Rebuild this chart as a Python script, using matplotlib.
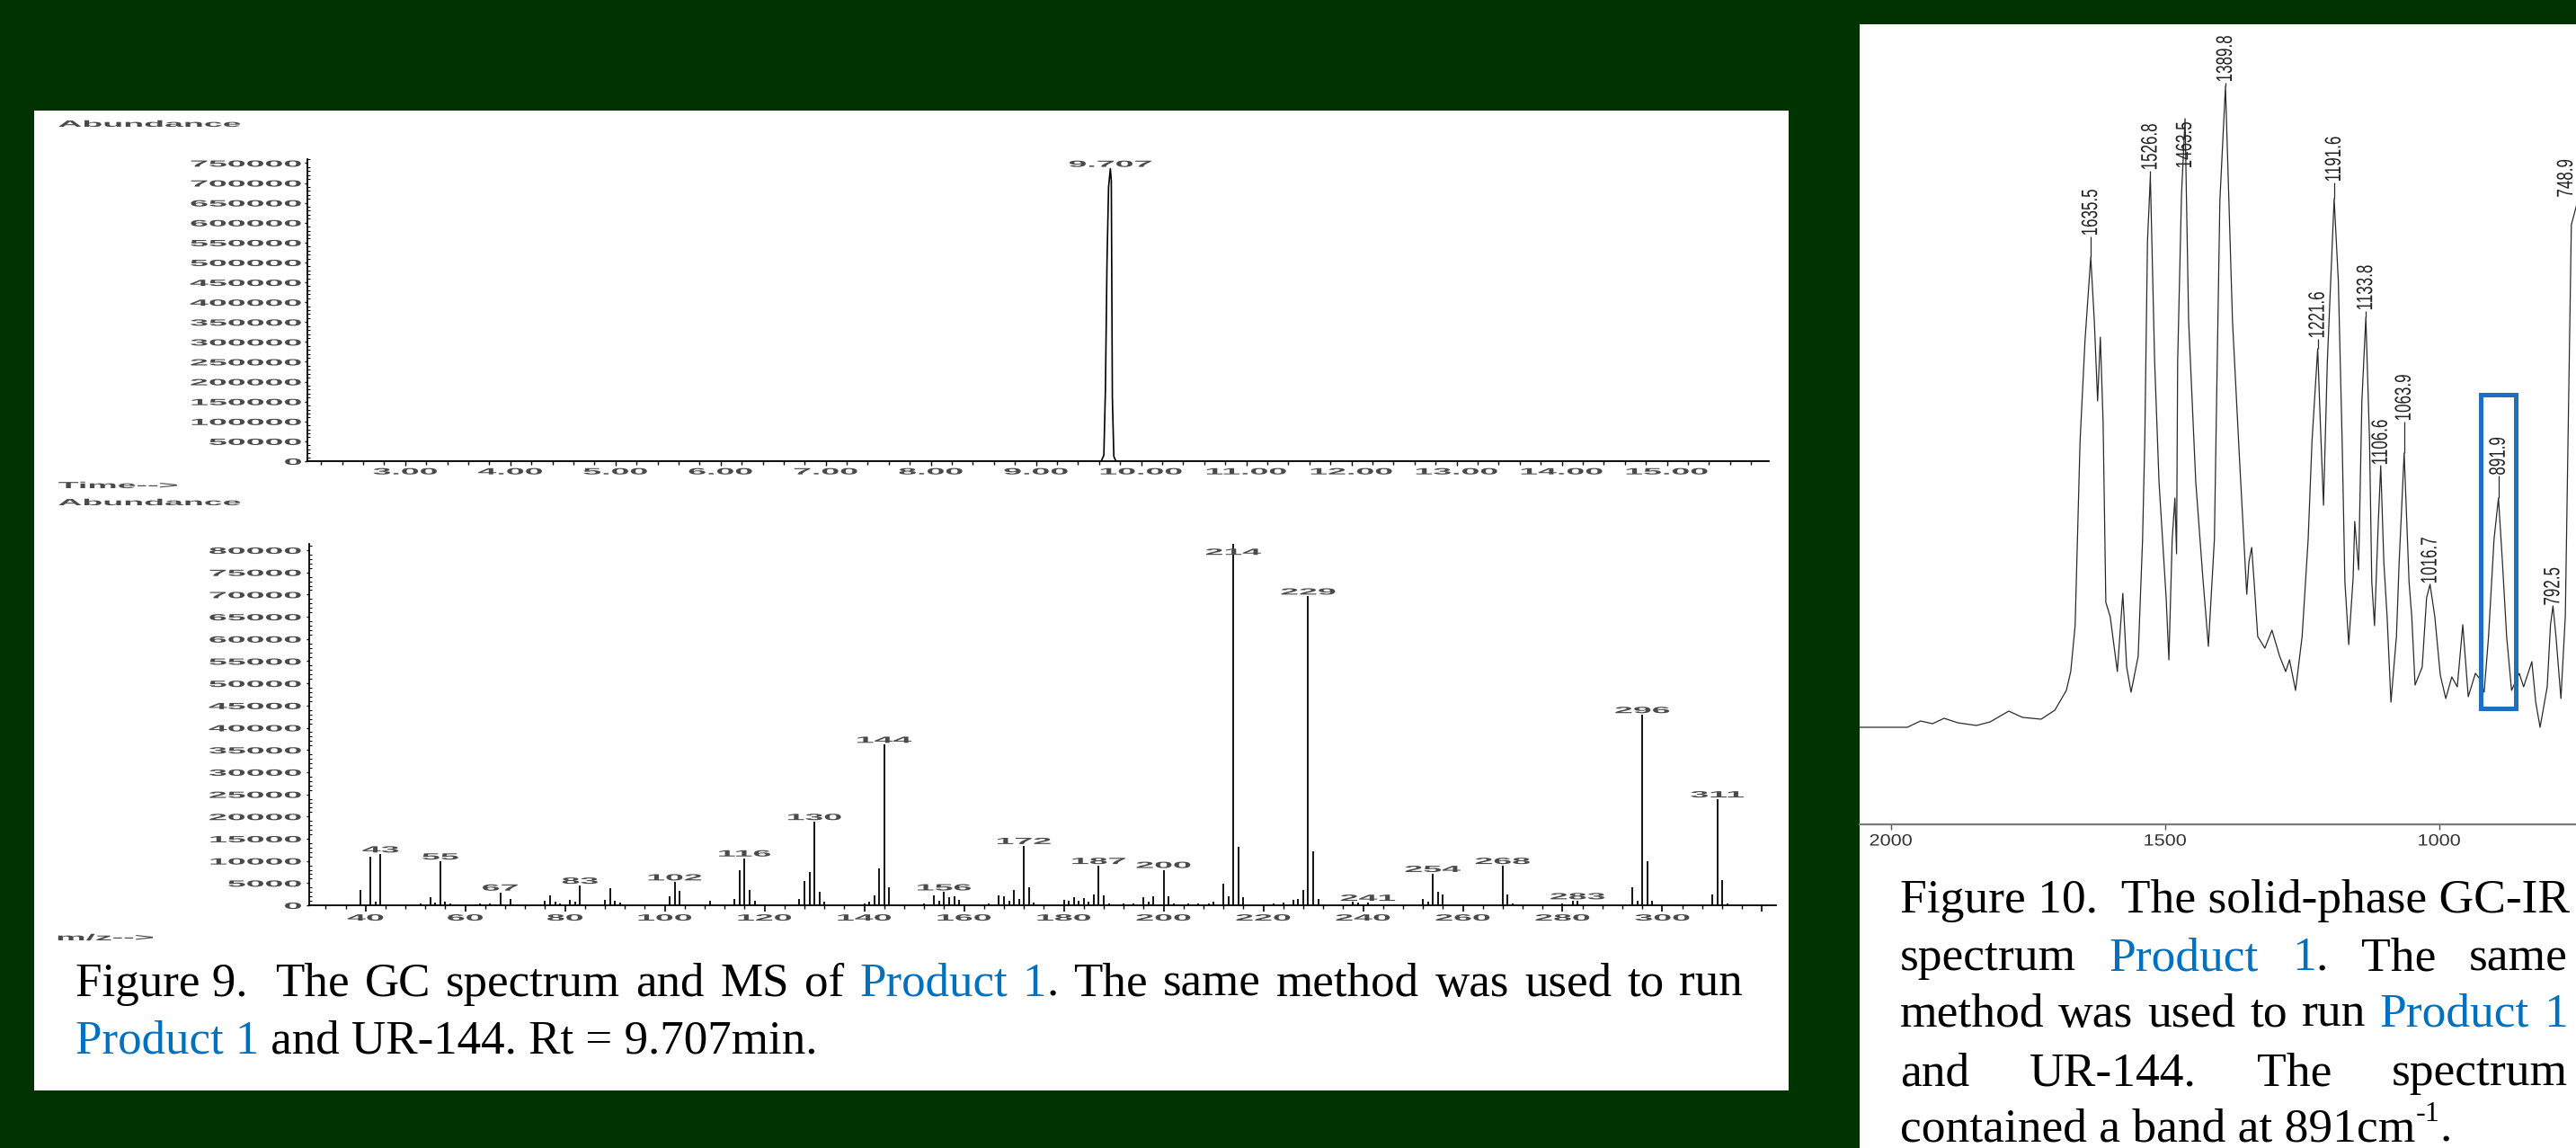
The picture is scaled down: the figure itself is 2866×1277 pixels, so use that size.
import numpy as np
import matplotlib
matplotlib.use("Agg")
import matplotlib.pyplot as plt
from matplotlib.patches import Rectangle
from matplotlib.patheffects import AbstractPathEffect
from matplotlib.transforms import Affine2D
from matplotlib.ticker import MultipleLocator

# ---------------------------------------------------------------- data
# GC chromatogram (time in min, abundance)
gc_time = [2.07, 9.62, 9.645, 9.66, 9.675, 9.69, 9.707, 9.716, 9.726, 9.74, 9.76, 15.97]
gc_abundance = [0, 0, 15000, 180000, 500000, 690000, 736000, 705000, 160000, 12000, 0, 0]
gc_rt = 9.707
gc_yticks = list(range(0, 750001, 50000))
gc_xticks = [3, 4, 5, 6, 7, 8, 9, 10, 11, 12, 13, 14, 15]

# Mass spectrum (m/z, abundance)
ms_mz = [39, 41, 42, 43, 51, 53, 54, 55, 56, 57, 62, 63, 65, 66, 67, 69, 76, 77, 78, 79,
         81, 82, 83, 88, 89, 90, 91, 101, 102, 103, 109, 114, 115, 116, 117, 118,
         127, 128, 129, 130, 131, 132, 140, 141, 142, 143, 144, 145,
         152, 154, 155, 156, 157, 158, 159, 165, 167, 168, 169, 170, 171, 172, 173, 174,
         180, 181, 182, 183, 184, 185, 186, 187, 188, 189, 192, 194, 196, 197, 198, 200,
         201, 202, 205, 207, 209, 210, 212, 213, 214, 215, 216, 222, 224, 226, 227, 228,
         229, 230, 231, 238, 239, 241, 252, 253, 254, 255, 256, 268, 269, 270, 280, 282,
         283, 294, 295, 296, 297, 298, 310, 311, 312, 313]
ms_abundance = [3500, 10900, 800, 11500, 500, 1800, 700, 9900, 800, 500, 300, 400, 500, 300,
                2900, 1350, 950, 2300, 800, 500, 1300, 800, 4450, 1150, 3800, 1000, 700,
                2000, 5200, 3300, 1000, 1500, 7900, 10600, 3500, 950,
                1350, 5500, 7400, 18800, 3000, 800, 500, 800, 2300, 8400, 36200, 4000,
                400, 2300, 950, 2950, 1800, 1950, 1150, 400, 2300, 2000, 1000, 3500, 1350,
                13400, 4000, 700, 1150, 950, 1750, 1000, 1700, 800, 2500, 8900, 2300, 500,
                400, 500, 1800, 800, 2000, 8000, 2000, 400, 400, 400, 500, 800, 4850, 2000,
                81400, 13100, 1800, 400, 700, 1150, 1500, 3500, 69600, 12100, 1350, 800,
                600, 600, 1500, 800, 7100, 2950, 2500, 8900, 2500, 400, 500, 950, 950, 4000,
                950, 42900, 10000, 950, 2500, 23900, 5650, 400]
ms_labeled = [43, 55, 67, 83, 102, 116, 130, 144, 156, 172, 187, 200, 214, 229, 241,
              254, 268, 283, 296, 311]
ms_yticks = list(range(0, 80001, 5000))
ms_xticks = list(range(40, 321, 20))

# Solid-phase GC-IR spectrum (wavenumber cm-1, absorbance a.u.)
ir_wavenumber = [2057, 1970, 1946, 1924, 1903, 1878, 1844, 1819, 1785, 1760, 1726, 1701,
                 1680, 1672, 1664, 1655, 1646, 1635.5, 1629, 1623, 1618, 1613, 1608, 1600,
                 1587, 1577, 1570, 1562, 1549, 1541, 1537, 1532, 1526.8, 1519, 1511, 1498,
                 1493, 1487, 1482, 1479, 1477, 1470, 1463.5, 1457, 1444, 1431, 1421, 1410,
                 1406, 1400, 1389.8, 1377, 1364, 1351, 1347, 1342, 1337, 1331, 1318, 1305,
                 1291, 1280, 1273, 1262, 1250, 1239, 1232, 1221.6, 1217, 1211, 1204, 1191.6,
                 1184, 1177, 1172, 1165, 1157, 1154, 1147, 1141, 1133.8, 1127, 1123, 1118,
                 1111, 1106.6, 1101, 1095, 1088, 1078, 1073, 1063.9, 1055, 1050, 1044, 1031,
                 1023, 1016.7, 1008, 998, 988, 977, 967, 957, 947, 934, 926, 918, 910, 900,
                 891.9, 885, 877, 868, 854, 846, 831, 824, 816, 803, 797, 792.5, 787, 778,
                 770, 764, 759, 748.9]
ir_absorbance = [0.108, 0.108, 0.115, 0.112, 0.118, 0.113, 0.110, 0.114, 0.126, 0.119, 0.117,
                 0.127, 0.149, 0.170, 0.221, 0.426, 0.538, 0.631, 0.560, 0.471, 0.542, 0.448,
                 0.247, 0.231, 0.170, 0.257, 0.175, 0.147, 0.187, 0.317, 0.426, 0.649, 0.721,
                 0.515, 0.381, 0.252, 0.183, 0.317, 0.363, 0.301, 0.515, 0.700, 0.785, 0.560,
                 0.381, 0.274, 0.198, 0.317, 0.471, 0.694, 0.821, 0.560, 0.404, 0.256, 0.292,
                 0.308, 0.265, 0.209, 0.196, 0.216, 0.187, 0.170, 0.183, 0.149, 0.209, 0.317,
                 0.426, 0.529, 0.450, 0.355, 0.515, 0.696, 0.605, 0.426, 0.270, 0.200, 0.274,
                 0.337, 0.283, 0.471, 0.564, 0.426, 0.270, 0.221, 0.337, 0.399, 0.292, 0.231,
                 0.136, 0.209, 0.292, 0.413, 0.270, 0.231, 0.155, 0.175, 0.252, 0.267, 0.231,
                 0.166, 0.140, 0.164, 0.153, 0.222, 0.142, 0.168, 0.162, 0.147, 0.209, 0.317,
                 0.363, 0.295, 0.209, 0.149, 0.168, 0.153, 0.181, 0.136, 0.108, 0.153, 0.222,
                 0.243, 0.209, 0.140, 0.231, 0.471, 0.667, 0.690]
ir_peaks = [1635.5, 1526.8, 1463.5, 1389.8, 1221.6, 1191.6, 1133.8, 1106.6, 1063.9,
            1016.7, 891.9, 792.5, 748.9]
ir_xticks = [2000, 1500, 1000]
ir_band = (860, 924)

# ---------------------------------------------------------------- layout / style
W, H, DPI = 2866, 1277, 100
GREEN = "#003300"
BLUE = "#0070C0"
GRAY = "#4a4a4a"
SANS = "Liberation Sans"
SERIF = "Liberation Serif"
LAB_FS = 7.2          # chart label size (pt)
LAB_SX = 3.75         # horizontal stretch of the printout lettering
LAB_W = "bold"
ir_label_gap = [0.023, 0.006, -0.056, 0.004, 0.011, 0.018, 0.007, 0.0, 0.035, 0.0,
                0.025, 0.0, 0.007]
ir_label_edge_wn = 768.5   # last label is kept inside the right edge


class Stretch(AbstractPathEffect):
    """Draw text glyphs scaled non-uniformly about an anchor of the glyph box."""

    def __init__(self, sx=1.0, sy=1.0, fx=0.0, fy=None):
        super().__init__()
        self.sx, self.sy, self.fx, self.fy = sx, sy, fx, fy

    def draw_path(self, renderer, gc, tpath, affine, rgbFace=None):
        ext = tpath.get_extents()
        cx = ext.x0 + self.fx * ext.width
        cy = 0.0 if self.fy is None else ext.y0 + self.fy * ext.height
        pre = Affine2D().translate(-cx, -cy).scale(self.sx, self.sy).translate(cx, cy)
        renderer.draw_path(gc, tpath, pre + affine, rgbFace)


def rect(x0, y0, x1, y1):
    return [x0 / W, 1 - y1 / H, (x1 - x0) / W, (y1 - y0) / H]


def fpos(x, y):
    return x / W, 1 - y / H


fig = plt.figure(figsize=(W / DPI, H / DPI), dpi=DPI, facecolor=GREEN)

# white panels
for (x0, y0, x1, y1) in [(38, 123, 1990, 1213), (2069, 27, 2866, 1277)]:
    fig.add_artist(Rectangle((x0 / W, 1 - y1 / H), (x1 - x0) / W, (y1 - y0) / H,
                             transform=fig.transFigure, facecolor="white",
                             edgecolor="none", zorder=-5))


def style_axis(ax):
    for s in ("top", "right"):
        ax.spines[s].set_visible(False)
    for s in ("left", "bottom"):
        ax.spines[s].set_linewidth(1.3)
    ax.set_facecolor("none")
    for lbl in ax.get_xticklabels():
        lbl.set_fontfamily(SANS)
        lbl.set_fontsize(LAB_FS)
        lbl.set_fontweight(LAB_W)
        lbl.set_color(GRAY)
        lbl.set_path_effects([Stretch(LAB_SX, 1.0, 0.5)])
    for lbl in ax.get_yticklabels():
        lbl.set_fontfamily(SANS)
        lbl.set_fontsize(LAB_FS)
        lbl.set_fontweight(LAB_W)
        lbl.set_color(GRAY)
        lbl.set_path_effects([Stretch(LAB_SX, 1.0, 1.0)])


def plabel(ax, x, y, s, fx=0.5, ha="center"):
    ax.text(x, y, s, ha=ha, va="baseline", fontsize=LAB_FS, family=SANS, weight=LAB_W,
            color=GRAY, path_effects=[Stretch(LAB_SX, 1.0, fx)])


# ---------------------------------------------------------------- GC chromatogram
ax1 = fig.add_axes(rect(342, 177, 1968, 513))
ax1.plot(gc_time, gc_abundance, color="black", lw=1.2)
ax1.set_xlim(2.07, 15.97)
ax1.set_ylim(0, 760000)
ax1.set_xticks(gc_xticks, labels=[f"{v:.2f}" for v in gc_xticks])
ax1.xaxis.set_minor_locator(MultipleLocator(0.2))
ax1.set_yticks(gc_yticks, labels=[str(v) for v in gc_yticks])
ax1.yaxis.set_minor_locator(MultipleLocator(10000))
ax1.tick_params(axis="x", which="major", direction="out", length=3.8, width=1.0, pad=1.0)
ax1.tick_params(axis="x", which="minor", direction="out", length=2.6, width=1.0)
ax1.tick_params(axis="y", which="major", direction="out", length=2.2, width=1.0, pad=2.5)
ax1.tick_params(axis="y", which="minor", direction="in", length=2.0, width=0.8)
style_axis(ax1)
plabel(ax1, gc_rt, max(gc_abundance) + 4500, f"{gc_rt:.3f}")

# ---------------------------------------------------------------- mass spectrum
ax2 = fig.add_axes(rect(344, 604.6, 1976, 1007))
ax2.vlines(ms_mz, 0, ms_abundance, color="black", lw=1.3)
ax2.set_xlim(28.7, 322.8)
ax2.set_ylim(0, 81500)
ax2.set_xticks(ms_xticks, labels=[str(v) if v <= 300 else "" for v in ms_xticks])
ax2.xaxis.set_minor_locator(MultipleLocator(4))
ax2.set_yticks(ms_yticks, labels=[str(v) for v in ms_yticks])
ax2.yaxis.set_minor_locator(MultipleLocator(1000))
ax2.tick_params(axis="x", which="major", direction="out", length=5.0, width=1.2, pad=1.5)
ax2.tick_params(axis="x", which="minor", direction="out", length=2.6, width=1.0)
ax2.tick_params(axis="y", which="major", direction="out", length=2.2, width=1.0, pad=4.0)
ax2.tick_params(axis="y", which="minor", direction="in", length=1.8, width=0.8)
style_axis(ax2)
ms_lookup = dict(zip(ms_mz, ms_abundance))
for mz in ms_labeled:
    plabel(ax2, mz, min(ms_lookup[mz] + 400, 78950), str(mz))

# printout captions
for (x, y, s) in [(65, 141, "Abundance"), (65, 543, "Time-->"), (65, 562, "Abundance"),
                  (64, 1046, "m/z-->")]:
    fig.text(*fpos(x, y), s, ha="left", va="baseline", fontsize=LAB_FS, family=SANS,
             weight=LAB_W, color=GRAY, path_effects=[Stretch(LAB_SX, 1.0, 0.0)])

# ---------------------------------------------------------------- IR spectrum
ax3 = fig.add_axes(rect(2069, 27, 2866, 917))
ax3.set_facecolor("none")
ax3.plot(ir_wavenumber, ir_absorbance, color="#2a2a2a", lw=0.9)
ax3.set_xlim(2057, 750.5)
ax3.set_ylim(0, 0.89)
for s in ("top", "right", "left"):
    ax3.spines[s].set_visible(False)
ax3.spines["bottom"].set_linewidth(1.6)
ax3.spines["bottom"].set_color("#7a7a7a")
ax3.set_yticks([])
ax3.set_xticks(ir_xticks, labels=[str(v) for v in ir_xticks])
ax3.tick_params(axis="x", direction="out", length=4.0, width=1.0, color="#555555", pad=3.6)
for lbl in ax3.get_xticklabels():
    lbl.set_fontfamily(SANS)
    lbl.set_fontsize(13)
    lbl.set_color("#333333")
    lbl.set_path_effects([Stretch(1.2, 1.0, 0.5)])

wn_inc = np.array(ir_wavenumber[::-1], dtype=float)
ab_inc = np.array(ir_absorbance[::-1], dtype=float)
for p, gap in zip(ir_peaks, ir_label_gap):
    h = float(np.interp(p, wn_inc, ab_inc))
    base = h + gap
    xlab = max(p, ir_label_edge_wn)
    if gap > 0 and xlab == p:
        ax3.vlines(p, h, base, color="#2a2a2a", lw=0.9)
    ax3.text(xlab, base, f"{p:.1f}", rotation=90, ha="center", va="bottom", fontsize=18,
             family=SANS, color="#222222", clip_on=False,
             path_effects=[Stretch(0.68, 1.0, 0.0, 0.5)])

ax3.add_patch(Rectangle((ir_band[0], 0.129), ir_band[1] - ir_band[0], 0.349, fill=False,
                        edgecolor="#1f6fc0", lw=3.6, zorder=5))

# ---------------------------------------------------------------- figure captions
renderer = fig.canvas.get_renderer()


def text_width(s, size):
    t = fig.text(0, 0, s, fontsize=size, family=SERIF)
    w = t.get_window_extent(renderer).width
    t.remove()
    return w


def advance(s, size):
    return text_width("H" + s + "H", size) - text_width("HH", size)


def piece_list(pieces):
    out = []
    for p in pieces:
        s, c = p[0], p[1]
        sc = p[2] if len(p) > 2 else 1.0
        rise = p[3] if len(p) > 3 else 0.0
        out.append((s, c, sc, rise))
    return out


def draw_pieces(x, y, pieces, size):
    for s, c, sc, rise in piece_list(pieces):
        fs = size * sc
        yy = y - rise * size * DPI / 72.0
        fig.text(*fpos(x, yy), s, fontsize=fs, family=SERIF, color=c, ha="left",
                 va="baseline")
        x += advance(s, fs)
    return x


def line_width(pieces, size):
    return sum(advance(s, size * sc) for s, c, sc, r in piece_list(pieces))


def draw_justified(x0, x1, y, words, size):
    widths = [line_width(wd, size) for wd in words]
    gap = (x1 - x0 - sum(widths)) / (len(words) - 1)
    x = x0
    for wd, w in zip(words, widths):
        draw_pieces(x, y, wd, size)
        x += w + gap


K = "black"
# Figure 9 caption (justified first line)
left_l2 = [("Product 1", BLUE), (" and UR-144. Rt = 9.707min.", K)]
size_left = 40.0 * 826.0 / line_width(left_l2, 40.0)
LX0, LX1 = 84, 1939
left_l1_words = [[("Figure 9. ", K)], [("The", K)], [("GC", K)], [("spectrum", K)],
                 [("and", K)], [("MS", K)], [("of", K)], [("Product", BLUE)],
                 [("1", BLUE), (".", K)], [("The", K)], [("same", K)], [("method", K)],
                 [("was", K)], [("used", K)], [("to", K)], [("run", K)]]
draw_justified(LX0, LX1, 1108, left_l1_words, size_left)
draw_pieces(LX0, 1172, left_l2, size_left)

# Figure 10 caption (justified block)
right_l1 = [("Figure 10.  The solid-phase GC-IR", K)]
size_right = 40.0 * 743.0 / line_width(right_l1, 40.0)
RX0, RX1 = 2114, 2857
draw_pieces(RX0, 1015, right_l1, size_right)
draw_justified(RX0, RX1, 1079, [[("spectrum", K)], [("Product", BLUE)],
                                [("1", BLUE), (".", K)], [("The", K)], [("same", K)]],
               size_right)
draw_justified(RX0, RX1, 1142, [[("method", K)], [("was", K)], [("used", K)], [("to", K)],
                                [("run", K)], [("Product", BLUE)], [("1", BLUE)]],
               size_right)
draw_justified(RX0, RX1, 1207, [[("and", K)], [("UR-144.", K)], [("The", K)],
                                [("spectrum", K)]], size_right)
draw_pieces(RX0, 1269, [("contained a band at 891cm", K), ("-1", K, 0.6, 0.42), (".", K)],
            size_right)

fig.savefig("out.png", dpi=DPI, facecolor=GREEN)
